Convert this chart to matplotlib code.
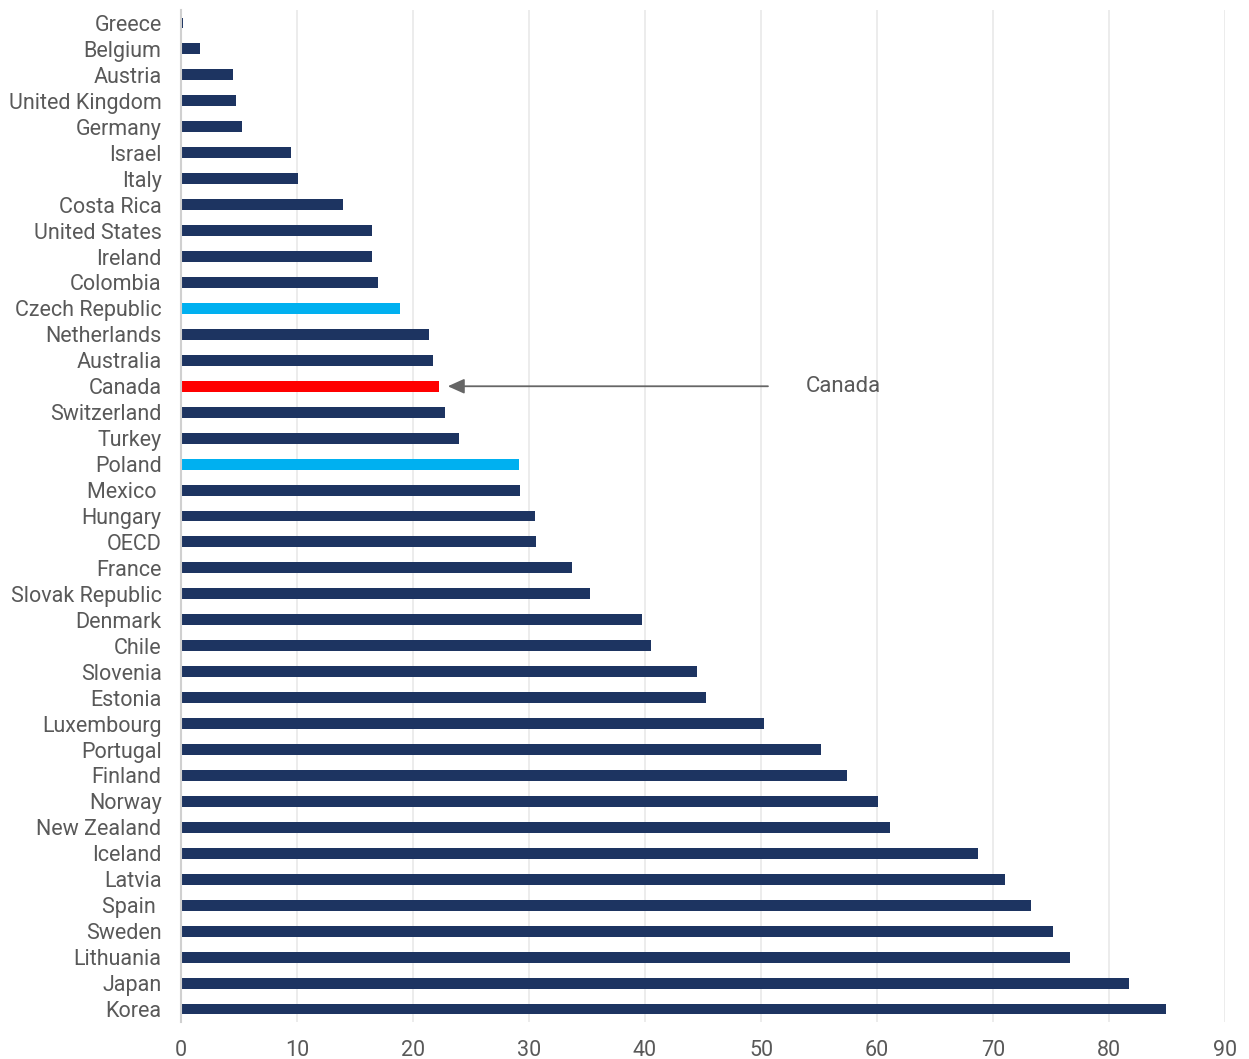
import matplotlib.pyplot as plt

countries = [
    "Greece", "Belgium", "Austria", "United Kingdom", "Germany", "Israel", "Italy",
    "Costa Rica", "United States", "Ireland", "Colombia", "Czech Republic",
    "Netherlands", "Australia", "Canada", "Switzerland", "Turkey", "Poland",
    "Mexico ", "Hungary", "OECD", "France", "Slovak Republic", "Denmark", "Chile",
    "Slovenia", "Estonia", "Luxembourg", "Portugal", "Finland", "Norway",
    "New Zealand", "Iceland", "Latvia", "Spain ", "Sweden", "Lithuania", "Japan",
    "Korea",
]
values = [
    0.2, 1.6, 4.5, 4.7, 5.3, 9.5, 10.1, 14.0, 16.5, 16.5, 17.0, 18.9, 21.4, 21.7,
    22.2, 22.8, 24.0, 29.1, 29.2, 30.5, 30.6, 33.7, 35.3, 39.7, 40.5, 44.5, 45.3,
    50.3, 55.2, 57.4, 60.1, 61.1, 68.7, 71.0, 73.3, 75.2, 76.6, 81.7, 84.9,
]
highlight_blue = ["Czech Republic", "Poland"]
highlight_red = ["Canada"]
x_ticks = [0, 10, 20, 30, 40, 50, 60, 70, 80, 90]

NAVY = "#1d3461"
BLUE = "#00b0f0"
RED = "#ff0000"
TEXT = "#595959"

plt.rcParams["font.family"] = ["Roboto", "DejaVu Sans"]

colors = []
for c in countries:
    if c in highlight_red:
        colors.append(RED)
    elif c in highlight_blue:
        colors.append(BLUE)
    else:
        colors.append(NAVY)

fig = plt.figure(figsize=(12.49, 10.59), dpi=100)
ax = fig.add_axes([181 / 1249, 1 - 1022 / 1059, 1044 / 1249, 1012 / 1059])

ypos = list(range(len(countries)))
ax.barh(ypos, values, height=0.42, color=colors, zorder=3)

ax.set_xlim(0, 90)
ax.set_ylim(len(countries) - 0.5, -0.5)
ax.set_xticks(x_ticks)
ax.set_yticks(ypos)
ax.set_yticklabels(countries)
ax.tick_params(axis="both", length=0, colors=TEXT, labelsize=15.5)
ax.tick_params(axis="y", pad=14)
ax.tick_params(axis="x", pad=13)
ax.grid(axis="x", color="#ebebeb", linewidth=1.3, zorder=0)
for side in ["top", "right", "bottom"]:
    ax.spines[side].set_visible(False)
ax.spines["left"].set_color("#d0d0d0")
ax.spines["left"].set_linewidth(1.5)
ax.spines["left"].set_zorder(4)

canada_idx = countries.index("Canada")
ax.annotate(
    "",
    xy=(23.0, canada_idx),
    xytext=(50.6, canada_idx),
    arrowprops=dict(arrowstyle="-|>,head_length=1.0,head_width=0.45",
                    color="#666666", lw=1.3, shrinkA=0, shrinkB=0),
    zorder=5,
)
ax.text(53.9, canada_idx, "Canada", va="center", ha="left",
        fontsize=16, color=TEXT)

fig.savefig("out.png", dpi=100)
